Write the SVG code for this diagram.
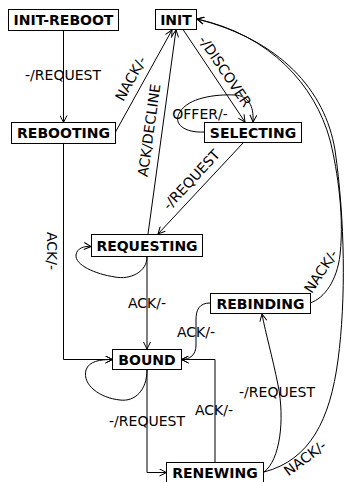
<svg xmlns="http://www.w3.org/2000/svg" width="345" height="482" viewBox="0 0 345 482">
  <style>
    .box { fill: #fff; stroke: #000; stroke-width: 1; }
    .name { font-family: "DejaVu Sans", sans-serif; font-size: 14px; font-weight: bold; text-anchor: middle; fill: #000; }
    .lbl { font-family: "DejaVu Sans", sans-serif; font-size: 14px; text-anchor: middle; fill: #000; }
    .edge { fill: none; stroke: #000; stroke-width: 1; marker-end: url(#arr); }
  </style>
  <defs>
    <marker id="arr" viewBox="0 0 8 8" refX="7.5" refY="4" markerWidth="8" markerHeight="8" markerUnits="userSpaceOnUse" orient="auto">
      <path d="M0.5,0.5 L7.5,4 L0.5,7.5" fill="none" stroke="#000" stroke-width="1"/>
    </marker>
  </defs>

  <g id="connectors">
    <!-- INIT-REBOOT -> REBOOTING -->
    <path class="edge" d="M63.5,30.5 V122.5"/>
    <text class="lbl" x="63" y="80">-/REQUEST</text>
    <!-- REBOOTING -> INIT -->
    <path class="edge" d="M115.5,132 L172,30"/>
    <text class="lbl" transform="translate(135,81) rotate(-61)">NACK/-</text>
    <!-- REBOOTING -> BOUND -->
    <path class="edge" d="M63.5,143.5 V359.5 H112.5"/>
    <text class="lbl" transform="translate(47,251) rotate(90)">ACK/-</text>
    <!-- INIT -> SELECTING -->
    <path class="edge" d="M183,29.5 L245,122"/>
    <text class="lbl" transform="translate(221,74) rotate(56)">-/DISCOVER</text>
    <!-- SELECTING self loop -->
    <path class="edge" d="M204,132 C185,133 172,124 180,112 C188,98 215,94 235,95 C248,96 254,105 253,122"/>
    <text class="lbl" x="200" y="119">OFFER/-</text>
    <!-- SELECTING -> REQUESTING -->
    <path class="edge" d="M243,143 L158,234"/>
    <text class="lbl" transform="translate(195,183) rotate(-47)">-/REQUEST</text>
    <!-- REQUESTING -> INIT -->
    <path class="edge" d="M148,234 L176,30"/>
    <text class="lbl" transform="translate(154,131) rotate(-82)">ACK/DECLINE</text>
    <!-- REQUESTING self loop -->
    <path class="edge" d="M147,257 C147,272 130,280 115,277 C95,274 75,265 76,255 C77,248 84,246 91,246.5"/>
    <!-- REQUESTING -> BOUND -->
    <path class="edge" d="M147,257 V349"/>
    <text class="lbl" x="147" y="308">ACK/-</text>
    <!-- BOUND self loop -->
    <path class="edge" d="M147,370 C147,390 135,402 120,400 C100,398 82,385 86,370 C89,361 100,359.5 112.5,359.5"/>
    <!-- REBINDING -> BOUND -->
    <path class="edge" d="M210,303 C199,303 196,310 196,320 L196,345 C196,355 190,359.5 181.5,359.5"/>
    <text class="lbl" x="196" y="337">ACK/-</text>
    <!-- RENEWING -> BOUND -->
    <path class="edge" d="M215,463 V359.5 H181.5"/>
    <text class="lbl" x="214" y="415">ACK/-</text>
    <!-- BOUND -> RENEWING -->
    <path class="edge" d="M147,370 V472.5 H166.5"/>
    <text class="lbl" x="147" y="426">-/REQUEST</text>
    <!-- RENEWING -> REBINDING -->
    <path class="edge" d="M264,472 C280,460 285,420 278,385 C272,355 266,335 262,314"/>
    <text class="lbl" x="277" y="397">-/REQUEST</text>
    <!-- RENEWING -> INIT -->
    <path class="edge" d="M264,472 C310,460 330,420 338,360 C346,300 345,220 335,150 C325,90 280,40 197,19"/>
    <text class="lbl" transform="translate(308,462) rotate(-37)">NACK/-</text>
    <!-- REBINDING -> INIT -->
    <path class="edge" d="M310,303 C325,298 337,280 340,255 C345,210 335,160 330,140 C315,85 270,35 197,19"/>
    <text class="lbl" transform="translate(325,274) rotate(-57)">NACK/-</text>
  </g>

  <g id="init-reboot"><rect class="box" x="8.5" y="9.5" width="110" height="21"/><text class="name" x="63.5" y="25">INIT-REBOOT</text></g>
  <g id="init"><rect class="box" x="155.5" y="9.5" width="41" height="20"/><text class="name" x="176" y="25">INIT</text></g>
  <g id="rebooting"><rect class="box" x="11.5" y="122.5" width="104" height="21"/><text class="name" x="63.5" y="138">REBOOTING</text></g>
  <g id="selecting"><rect class="box" x="204.5" y="122.5" width="97" height="20"/><text class="name" x="253" y="138">SELECTING</text></g>
  <g id="requesting"><rect class="box" x="91.5" y="234.5" width="111" height="22"/><text class="name" x="147" y="251">REQUESTING</text></g>
  <g id="rebinding"><rect class="box" x="210.5" y="293.5" width="100" height="20"/><text class="name" x="260.5" y="309">REBINDING</text></g>
  <g id="bound"><rect class="box" x="112.5" y="349.5" width="69" height="20"/><text class="name" x="147" y="365">BOUND</text></g>
  <g id="renewing"><rect class="box" x="166.5" y="462.5" width="97" height="21"/><text class="name" x="215" y="478">RENEWING</text></g>
</svg>
